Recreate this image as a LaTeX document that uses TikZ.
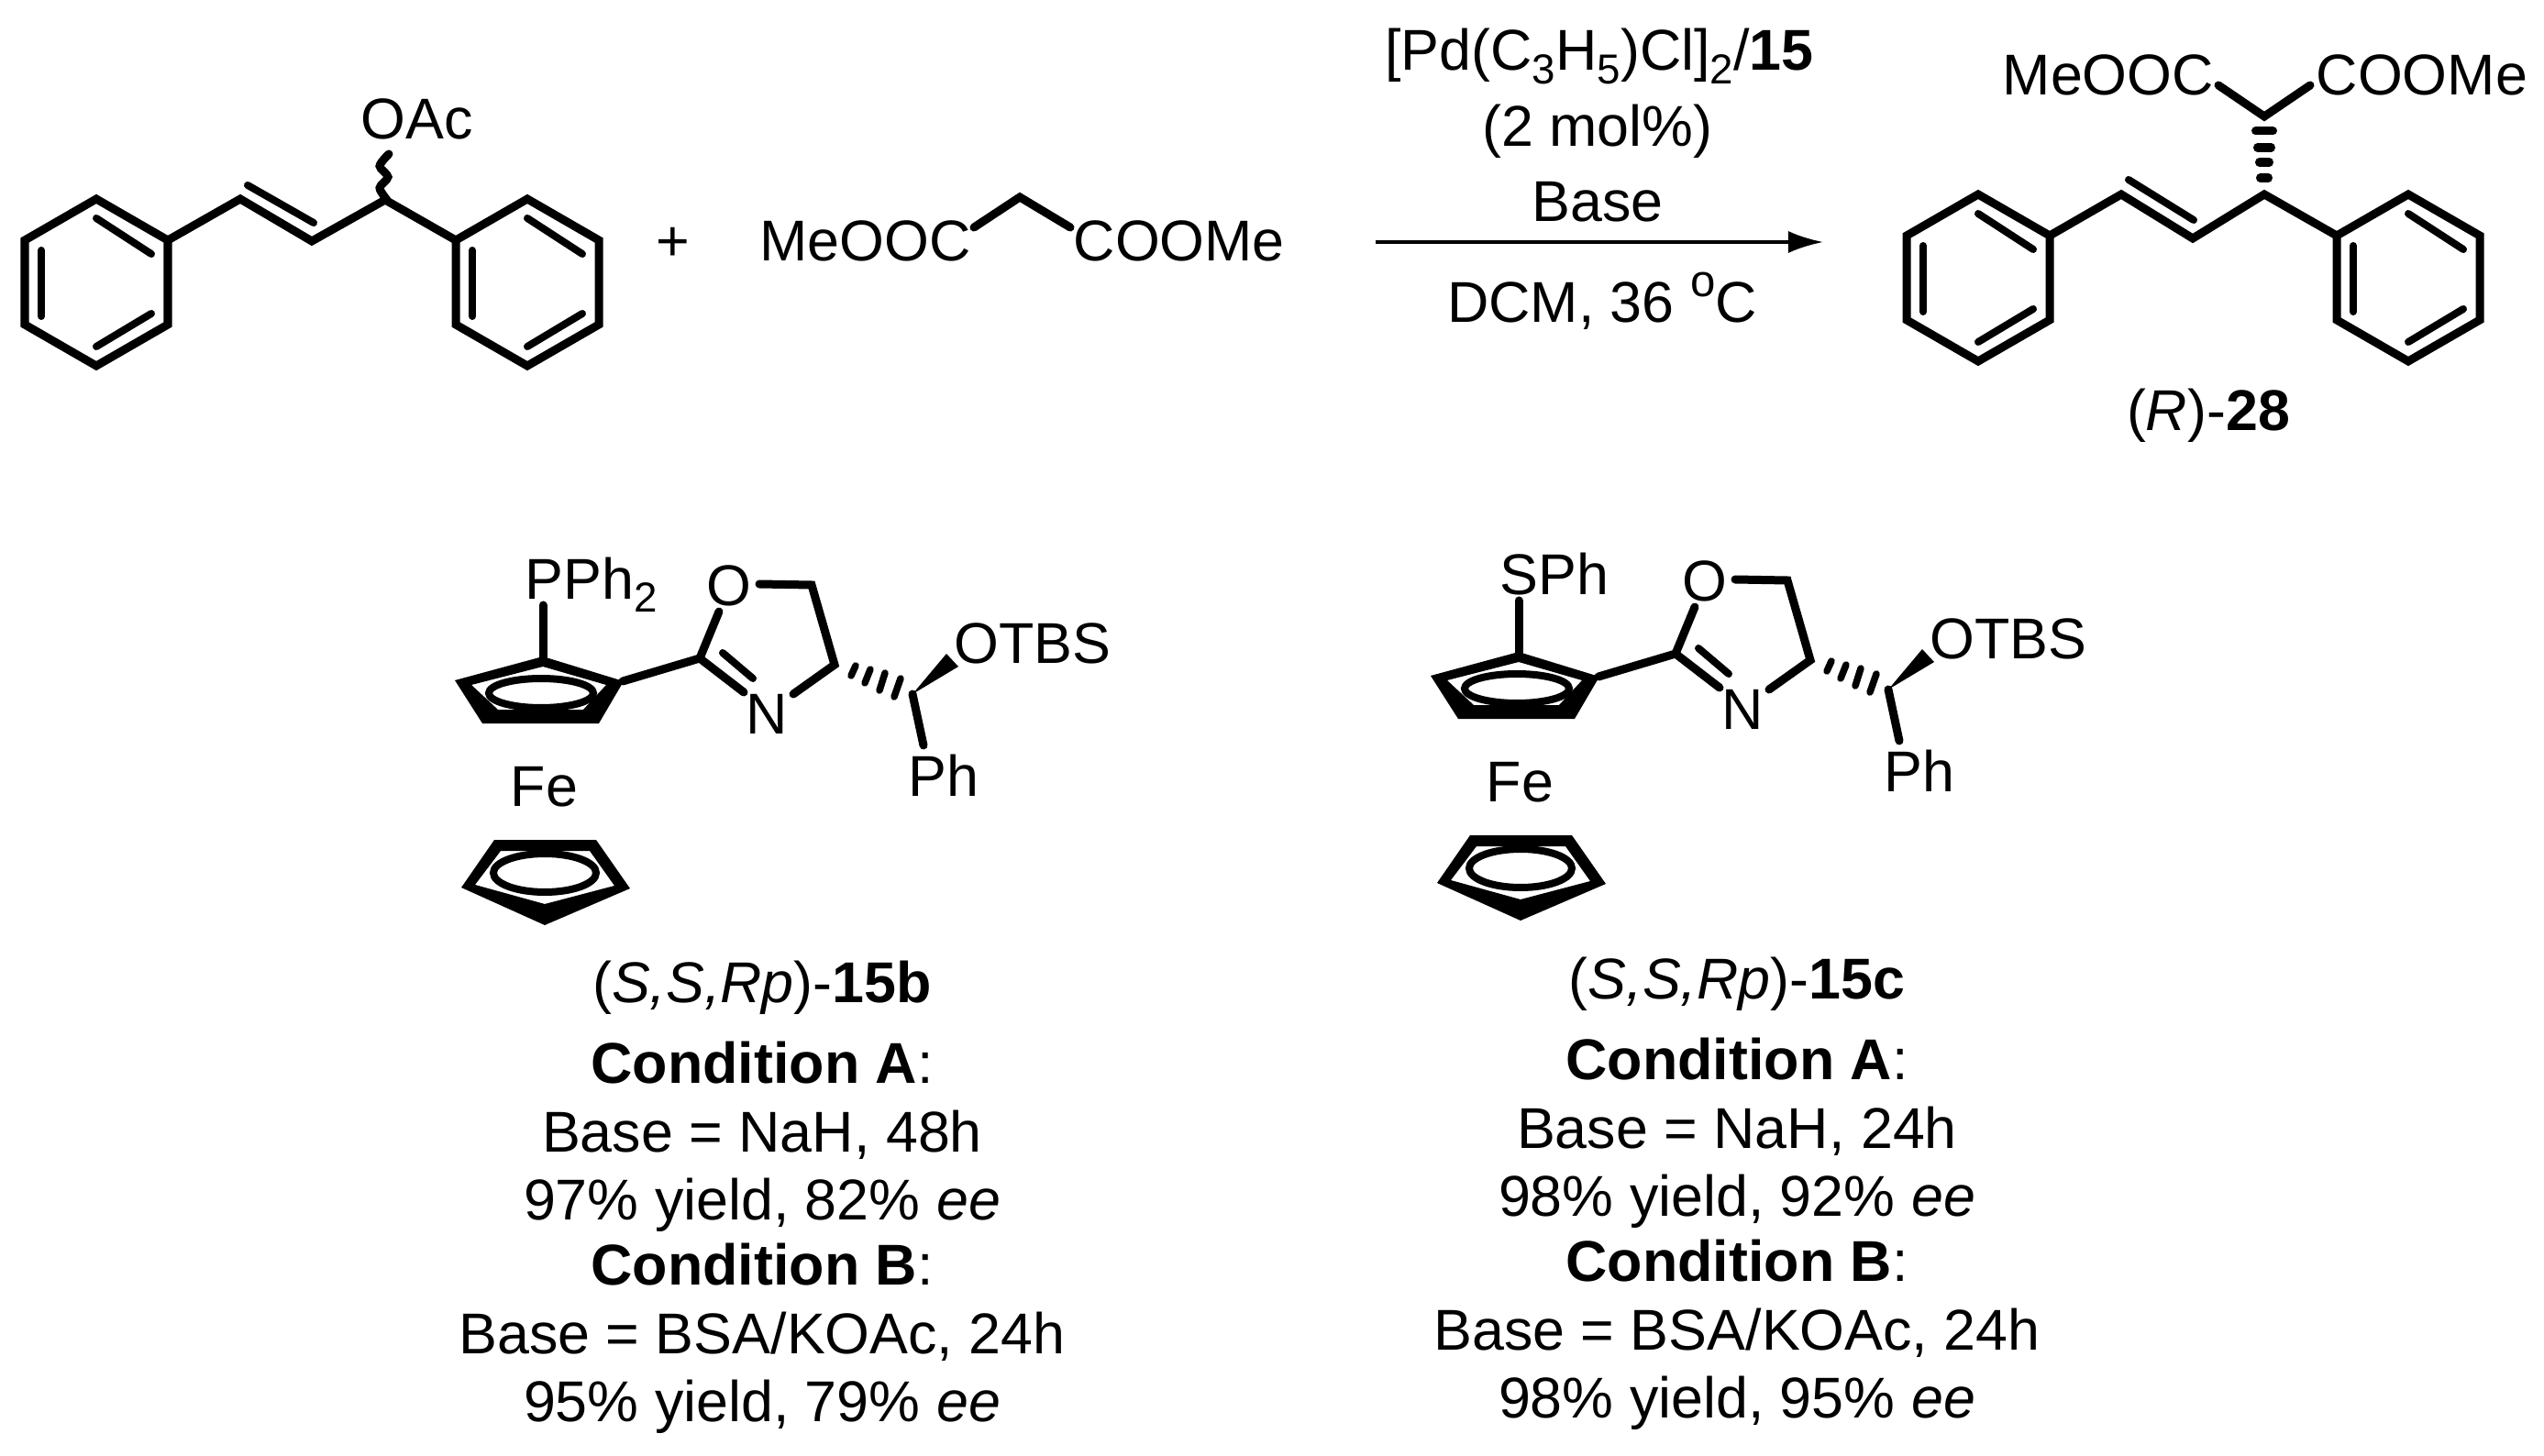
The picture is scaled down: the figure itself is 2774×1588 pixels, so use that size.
\documentclass[tikz,border=0pt]{standalone}
\usepackage{fontspec}
\setmainfont{Liberation Sans}
\usetikzlibrary{arrows.meta}
\def\chemsub#1{\raisebox{-4pt}{\fontsize{13}{14}\selectfont #1}}
\def\chemsup#1{\raisebox{8pt}{\fontsize{14}{15}\selectfont #1}}
\tikzset{
	bond/.style={line width=0.09cm, line cap=round, line join=miter},
	inbond/.style={line width=0.08cm, line cap=round},
	hashbar/.style={line width=0.075cm, line cap=round},
	txt/.style={inner sep=0, anchor=base, font=\fontsize{17.85}{21}\selectfont},
	ltxt/.style={txt, anchor=base west}
}
\def\benzring(#1,#2){
	\begin{scope}[shift={(#1,#2)}]
		\draw[bond] (0, -91) -- (78, -46) -- (78, 46) -- (0, 91) -- (-78, 46) -- (-78, -46) -- cycle;
		\draw[inbond] (0, -70) -- (60, -31);
		\draw[inbond] (-60, -35) -- (-60, 37);
		\draw[inbond] (60, 34) -- (0, 70);
	\end{scope}
}
\def\ligand[#1](#2,#3)#4#5{
	\begin{scope}[shift={(#2,#3)}, name prefix=#1-]
		\node[ltxt] (sub) at (#5, 653) {#4};
		\draw[bond] (592, 660) -- (592, 718);
		\fill[even odd rule] (592, 716) -- (680, 743) -- (653, 789) -- (526, 789) -- (496, 742) -- cycle
			(592, 727) -- (661, 747) -- (636, 774) -- (543, 774) -- (514, 747) -- cycle;
		\draw[line width=0.08cm] (590, 756) ellipse (57 and 16);
		\draw[bond] (679, 743) -- (763, 718) -- (784, 667);
		\node[txt] (oxy) at (795, 660) {O};
		\draw[bond] (828, 637) -- (885, 638) -- (910, 725) -- (865, 757);
		\node[txt] (nit) at (836, 800) {N};
		\draw[bond] (763, 718) -- (811, 755);
		\draw[inbond] (788, 712) -- (821, 740);
		\draw[hashbar] (933, 726) -- (928, 737);
		\draw[hashbar] (949, 730) -- (943, 745);
		\draw[hashbar] (965, 734) -- (959, 753);
		\draw[hashbar] (982, 740) -- (975, 760);
		\fill (995, 757) -- (1032, 713) -- (1045, 727) -- cycle;
		\draw[bond] (995, 757) -- (1007, 813);
		\node[ltxt] (otbs) at (1040, 723) {OTBS};
		\node[ltxt] (ph) at (990, 868) {Ph};
		\node[ltxt] (fe) at (556, 879) {Fe};
		\fill[even odd rule] (539, 916) -- (650, 916) -- (687, 969) -- (594, 1009) -- (503, 968) -- cycle
			(546, 928) -- (643, 928) -- (670, 966) -- (594, 986) -- (518, 965) -- cycle;
		\draw[line width=0.08cm] (594, 952) ellipse (56 and 21);
	\end{scope}
}

\begin{document}
\begin{tikzpicture}[x=0.01cm, y=-0.01cm]
		%%%%% START %%%%%
		\useasboundingbox (0, 0) rectangle (2774, 1588);
		
		\benzring(105, 308)
		\benzring(575, 308)
		\draw[bond] (183, 262) -- (262, 217) -- (340, 263) -- (420, 218) -- (497, 262);
		\draw[inbond] (270, 202) -- (342, 243);
		\draw[bond] plot[smooth] coordinates {(422, 218) (414, 205) (423, 193) (414, 181) (424, 168)};
		\node[ltxt] (oac) at (393, 152) {OAc};
		
		\node[txt] (plus) at (734, 285) {+};
		
		\node[ltxt] (esterl) at (828, 285) {MeOOC};
		\node[ltxt] (esterr) at (1170, 285) {COOMe};
		\draw[bond] (1062, 248) -- (1112, 215) -- (1167, 248);
		
		\node[txt] (cat) at (1744, 77) {[Pd(C\chemsub{3}H\chemsub{5})Cl]\chemsub{2}/\textbf{15}};
		\node[txt] (load) at (1742, 160) {(2 mol\%)};
		\node[txt] (base) at (1742, 242) {Base};
		\coordinate (arrowstart) at (1500, 264);
		\coordinate (arrowend) at (1988, 264);
		\draw[line width=0.035cm, -{Latex[length=0.38cm, width=0.24cm]}] (arrowstart) -- (arrowend);
		\node[txt] (solv) at (1747, 352) {DCM, 36 \chemsup{o}C};
		
		\benzring(2157, 303)
		\benzring(2626, 303)
		\draw[bond] (2235, 257) -- (2313, 212) -- (2391, 260) -- (2469, 212) -- (2548, 257);
		\draw[inbond] (2321, 196) -- (2392, 240);
		\draw[bond] (2419, 93) -- (2469, 127) -- (2519, 93);
		\foreach \barY/\barW in {143/9.5, 161/7.5, 177/5.5, 194/4.5}
			\draw[line width=0.09cm, line cap=round] (2469-\barW, \barY) -- (2469+\barW, \barY);
		\node[ltxt] (prodl) at (2183, 104) {MeOOC};
		\node[ltxt] (prodr) at (2525, 104) {COOMe};
		\node[txt] (prod) at (2408, 469) {(\textit{R})-\textbf{28}};
		
		\ligand[b](0, 0){PPh\chemsub{2}}{572}
		\ligand[c](1064, -5){SPh}{571}
		
		\node[txt] (nameb) at (831, 1093) {(\textit{S,S,Rp})-\textbf{15b}};
		\node[txt] (condab) at (831, 1181) {\textbf{Condition A}:};
		\node[txt] (baseab) at (831, 1256) {Base = NaH, 48h};
		\node[txt] (yieldab) at (831, 1330) {97\% yield, 82\% \textit{ee}};
		\node[txt] (condbb) at (831, 1401) {\textbf{Condition B}:};
		\node[txt] (basebb) at (831, 1476) {Base = BSA/KOAc, 24h};
		\node[txt] (yieldbb) at (831, 1550) {95\% yield, 79\% \textit{ee}};
		
		\node[txt] (namec) at (1894, 1089) {(\textit{S,S,Rp})-\textbf{15c}};
		\node[txt] (condac) at (1894, 1177) {\textbf{Condition A}:};
		\node[txt] (baseac) at (1894, 1252) {Base = NaH, 24h};
		\node[txt] (yieldac) at (1894, 1326) {98\% yield, 92\% \textit{ee}};
		\node[txt] (condbc) at (1894, 1397) {\textbf{Condition B}:};
		\node[txt] (basebc) at (1894, 1472) {Base = BSA/KOAc, 24h};
		\node[txt] (yieldbc) at (1894, 1546) {98\% yield, 95\% \textit{ee}};
		
		%%%%% END %%%%%
	\end{tikzpicture}
\end{document}
